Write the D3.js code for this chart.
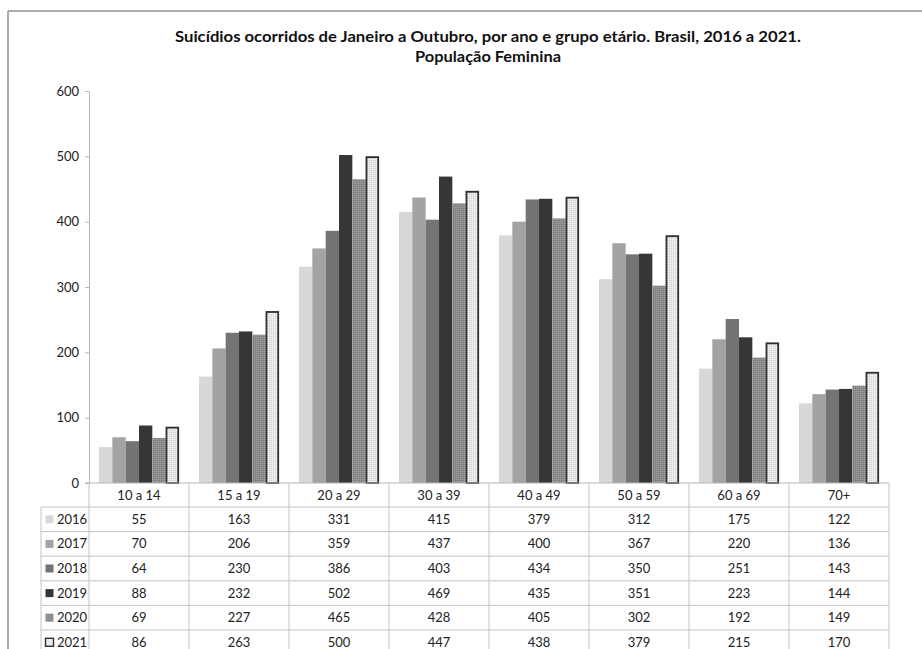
<!DOCTYPE html>
<html>
<head>
<meta charset="utf-8">
<script src="https://cdn.jsdelivr.net/npm/d3@7/dist/d3.min.js"></script>
<style>
  html, body { margin: 0; padding: 0; background: #fff; }
  svg { display: block; font-family: Lato, "Open Sans", sans-serif; }
</style>
</head>
<body>
<svg id="chart" width="922" height="649"></svg>
<script>
// Age groups (categories)
const ageGroups = ["10 a 14", "15 a 19", "20 a 29", "30 a 39", "40 a 49", "50 a 59", "60 a 69", "70+"];
// Years (series)
const years = ["2016", "2017", "2018", "2019", "2020", "2021"];
// Suicides, female population, January to October, per year and age group
const values2016 = [55, 163, 331, 415, 379, 312, 175, 122];
const values2017 = [70, 206, 359, 437, 400, 367, 220, 136];
const values2018 = [64, 230, 386, 403, 434, 350, 251, 143];
const values2019 = [88, 232, 502, 469, 435, 351, 223, 144];
const values2020 = [69, 227, 465, 428, 405, 302, 192, 149];
const values2021 = [86, 263, 500, 447, 438, 379, 215, 170];
const yTicks = [0, 100, 200, 300, 400, 500, 600];

const seriesValues = [values2016, values2017, values2018, values2019, values2020, values2021];

const svg = d3.select("#chart");
const W = 922, H = 649;
const textSize = 13;

// Bar fills per year
const defs = svg.append("defs");
const p20 = defs.append("pattern").attr("id", "pat2020").attr("patternUnits", "userSpaceOnUse")
  .attr("width", 2).attr("height", 2);
p20.append("rect").attr("width", 2).attr("height", 2).attr("fill", "#949494");
p20.append("rect").attr("width", 1).attr("height", 1).attr("fill", "#777");
const p21 = defs.append("pattern").attr("id", "pat2021").attr("patternUnits", "userSpaceOnUse")
  .attr("width", 2).attr("height", 2);
p21.append("rect").attr("width", 2).attr("height", 2).attr("fill", "#ececec");
p21.append("rect").attr("width", 1).attr("height", 1).attr("fill", "#cdcdcd");

const fills = ["#d8d8d8", "#a3a3a3", "#747474", "#363636", "url(#pat2020)", "url(#pat2021)"];
const keyFills = ["#d8d8d8", "#a3a3a3", "#747474", "#363636", "#8f8f8f", "#ececec"];

// Frame
svg.append("line").attr("x1", 8).attr("x2", W).attr("y1", 11).attr("y2", 11)
  .attr("stroke", "#ababab").attr("stroke-width", 2);
svg.append("line").attr("x1", 8).attr("x2", 8).attr("y1", 11).attr("y2", H)
  .attr("stroke", "#ababab").attr("stroke-width", 2);

// Title
const titleX = 488;
svg.append("text").attr("x", titleX).attr("y", 42).attr("text-anchor", "middle")
  .attr("font-weight", "bold").attr("font-size", 14.5).attr("fill", "#111")
  .attr("textLength", 626).attr("lengthAdjust", "spacingAndGlyphs")
  .text("Suicídios ocorridos de Janeiro a Outubro, por ano e grupo etário. Brasil, 2016 a 2021.");
svg.append("text").attr("x", titleX).attr("y", 62).attr("text-anchor", "middle")
  .attr("font-weight", "bold").attr("font-size", 14.5).attr("fill", "#111")
  .attr("textLength", 146).attr("lengthAdjust", "spacingAndGlyphs")
  .text("População Feminina");

// Scales
const x0 = d3.scaleBand().domain(ageGroups).range([89, 889]).paddingInner(0).paddingOuter(0);
const x1 = d3.scaleBand().domain(years).range([0, x0.bandwidth()]).paddingInner(0).paddingOuter(0.75);
const y = d3.scaleLinear().domain([0, 600]).range([483, 91]);

// Y axis
const yAxis = svg.append("g").attr("transform", "translate(89,0)")
  .call(d3.axisLeft(y).tickValues(yTicks).tickSize(4).tickPadding(6).tickFormat(d3.format("d")));
yAxis.select(".domain").attr("stroke", "#b5b5b5");
yAxis.selectAll(".tick line").attr("stroke", "#b5b5b5");
yAxis.selectAll(".tick text").attr("font-family", "Lato, sans-serif").attr("font-size", textSize).attr("fill", "#222");

// Bars
const groups = svg.append("g").selectAll("g")
  .data(ageGroups).join("g")
  .attr("transform", d => `translate(${x0(d)},0)`);

groups.selectAll("rect")
  .data((g, gi) => years.map((yr, si) => ({ yr, si, v: seriesValues[si][gi] })))
  .join("rect")
  .attr("x", d => x1(d.yr) + (d.si === 5 ? 0.8 : 0))
  .attr("width", d => x1.bandwidth() - (d.si === 5 ? 1.6 : 0))
  .attr("y", d => y(d.v) + (d.si === 5 ? 0.8 : 0))
  .attr("height", d => y(0) - y(d.v) - (d.si === 5 ? 0.8 : 0))
  .attr("fill", d => fills[d.si])
  .attr("stroke", d => d.si === 5 ? "#2e2e2e" : "none")
  .attr("stroke-width", d => d.si === 5 ? 1.8 : 0);

// Data table under the axis
const gridColor = "#c4c4c4";
const tableLeft = 41, headerTop = 483, rowTop = 507, rowH = 24.6;
const table = svg.append("g");

// category axis line
table.append("line").attr("x1", 85).attr("x2", 889).attr("y1", headerTop).attr("y2", headerTop)
  .attr("stroke", "#b5b5b5");

// horizontal row lines
d3.range(years.length + 1).forEach(i => {
  table.append("line").attr("x1", tableLeft).attr("x2", 889)
    .attr("y1", rowTop + i * rowH).attr("y2", rowTop + i * rowH)
    .attr("stroke", gridColor);
});
// vertical column lines
ageGroups.forEach(g => {
  table.append("line").attr("x1", x0(g)).attr("x2", x0(g)).attr("y1", headerTop).attr("y2", H)
    .attr("stroke", gridColor);
});
table.append("line").attr("x1", 889).attr("x2", 889).attr("y1", headerTop).attr("y2", H)
  .attr("stroke", gridColor);
table.append("line").attr("x1", tableLeft).attr("x2", tableLeft).attr("y1", rowTop).attr("y2", H)
  .attr("stroke", gridColor);

// header labels
table.selectAll("text.hdr").data(ageGroups).join("text").attr("class", "hdr")
  .attr("x", d => x0(d) + x0.bandwidth() / 2).attr("y", headerTop + rowH / 2 + 4.5)
  .attr("text-anchor", "middle").attr("font-size", textSize).attr("fill", "#222")
  .text(d => d);

// rows: legend key + year + values
years.forEach((yr, si) => {
  const cy = rowTop + si * rowH + rowH / 2;
  table.append("rect").attr("x", 45.5).attr("y", cy - 4).attr("width", 8).attr("height", 8)
    .attr("fill", keyFills[si])
    .attr("stroke", si === 5 ? "#2e2e2e" : "none").attr("stroke-width", si === 5 ? 1.4 : 0);
  table.append("text").attr("x", 57).attr("y", cy + 4.5)
    .attr("font-size", textSize).attr("fill", "#222").text(yr);
  table.selectAll(null).data(seriesValues[si]).join("text")
    .attr("x", (d, gi) => x0(ageGroups[gi]) + x0.bandwidth() / 2).attr("y", cy + 4.5)
    .attr("text-anchor", "middle").attr("font-size", textSize).attr("fill", "#222")
    .text(d => d);
});
</script>
</body>
</html>
